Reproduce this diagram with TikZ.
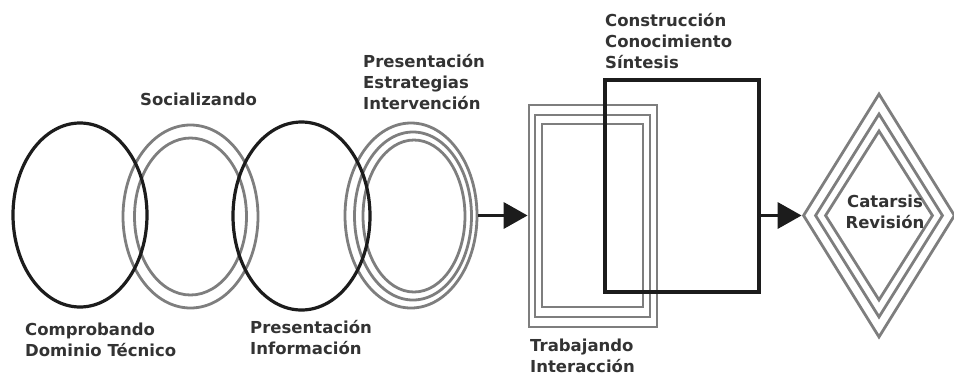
\documentclass[tikz,border=0pt]{standalone}
\usepackage{fontspec}
\setmainfont{DejaVu Sans}
\usetikzlibrary{shapes.geometric,arrows.meta}
\definecolor{ringgray}{HTML}{7E7E7E}
\definecolor{inkblack}{HTML}{1C1C1C}
\definecolor{labelgray}{HTML}{333333}
\begin{document}
\begin{tikzpicture}[x=1bp,y=-1bp,
  blackring/.style={draw=inkblack, line width=3.2bp, ellipse, inner sep=0pt},
  grayring/.style={draw=ringgray, line width=2.8bp, ellipse, inner sep=0pt},
  grayrect/.style={draw=ringgray, line width=2.8bp, rectangle, inner sep=0pt},
  blackrect/.style={draw=inkblack, line width=3.2bp, rectangle, inner sep=0pt},
  graydia/.style={draw=ringgray, line width=2.8bp, diamond, inner sep=0pt},
  lbl/.style={font=\bfseries\fontsize{16.5bp}{21bp}\selectfont, text=labelgray, align=left, inner sep=0pt, anchor=west},
  flow/.style={draw=inkblack, line width=3.5bp, -{Triangle[length=24bp,width=26bp]}}
]
\useasboundingbox (0,0) rectangle (954,378);
% gray rings
\node[grayring, minimum width=135bp, minimum height=183bp] (e2o) at (190.5,216.5) {};
\node[grayring, minimum width=112bp, minimum height=157bp] (e2i) at (190.5,216.5) {};
\node[grayring, minimum width=132bp, minimum height=185bp] (e4o) at (411,215.5) {};
\node[grayring, minimum width=117bp, minimum height=168bp] (e4m) at (413,216) {};
\node[grayring, minimum width=102bp, minimum height=152bp] (e4i) at (414,216) {};
% black rings
\node[blackring, minimum width=134bp, minimum height=184bp] (e1) at (80,215) {};
\node[blackring, minimum width=137bp, minimum height=188bp] (e3) at (301.5,216) {};
% gray rectangles
\node[grayrect, minimum width=128bp, minimum height=222bp] (r1o) at (593,216) {};
\node[grayrect, minimum width=115bp, minimum height=202bp] (r1m) at (592.5,216) {};
\node[grayrect, minimum width=101bp, minimum height=183bp] (r1i) at (592.5,215.5) {};
% black rectangle
\node[blackrect, minimum width=154bp, minimum height=212bp] (rb) at (682,186) {};
% diamonds
\node[graydia, minimum width=152bp, minimum height=244bp] (d1) at (879,215.5) {};
\node[graydia, minimum width=128bp, minimum height=204bp] (d2) at (879,215.5) {};
\node[graydia, minimum width=108bp, minimum height=170bp] (d3) at (879,215.5) {};
% connectors
\draw[flow] (e4o.east) -- (e4o.east -| r1o.west);
\draw[flow] (rb.east |- d1.west) -- (d1.west);
% labels
\node[lbl] (t1) at (25,340) {Comprobando\\Dominio Técnico};
\node[lbl] (t2) at (140,99) {Socializando};
\node[lbl] (t3) at (250,338) {Presentación\\Información};
\node[lbl] (t4) at (363,82) {Presentación\\Estrategias\\Intervención};
\node[lbl] (t5) at (605,41) {Construcción\\Conocimiento\\Síntesis};
\node[lbl] (t6) at (530,356) {Trabajando\\Interacción};
\node[lbl, align=center, anchor=center] (t7) at (885,212) {Catarsis\\Revisión};
\end{tikzpicture}
\end{document}
